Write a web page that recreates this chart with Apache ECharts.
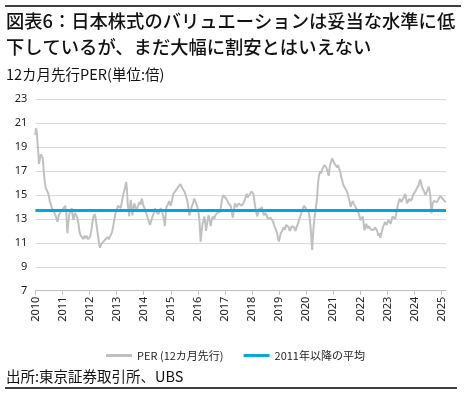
<!DOCTYPE html>
<html><head><meta charset="utf-8">
<script src="https://cdn.jsdelivr.net/npm/echarts@6/dist/echarts.min.js"></script>
<style>html,body{margin:0;padding:0;background:#fff}#c{width:471px;height:393px}</style>
</head><body><div id="c"></div>
<script>
// Decimal-year dates and 12-month forward PER values
const perDates = [
2010.00,2010.02,2010.05,2010.07,2010.10,2010.13,2010.16,2010.20,2010.23,2010.27,2010.30,2010.34,2010.38,2010.42,2010.46,2010.49,2010.53,2010.57,2010.61,2010.66,2010.70,2010.74,2010.78,2010.82,2010.86,2010.91,2010.96,
2011.01,2011.06,2011.10,2011.14,2011.18,2011.21,2011.25,2011.29,2011.34,2011.38,2011.41,2011.46,2011.50,2011.55,2011.59,2011.63,2011.67,2011.72,2011.77,2011.81,2011.85,2011.89,2011.93,2011.96,
2012.02,2012.06,2012.10,2012.14,2012.20,2012.24,2012.28,2012.33,2012.36,2012.39,2012.43,2012.47,2012.51,2012.55,2012.59,2012.63,2012.67,2012.71,2012.75,2012.79,2012.83,2012.88,2012.92,2012.96,
2013.00,2013.05,2013.10,2013.15,2013.20,2013.25,2013.30,2013.35,2013.38,2013.41,2013.44,2013.46,2013.49,2013.52,2013.55,2013.58,2013.62,2013.65,2013.69,2013.74,2013.79,2013.84,2013.88,2013.93,2013.99,
2014.03,2014.07,2014.12,2014.17,2014.23,2014.27,2014.31,2014.36,2014.41,2014.46,2014.50,2014.54,2014.57,2014.63,2014.68,2014.72,2014.76,2014.78,2014.81,2014.84,2014.89,2014.94,
2015.00,2015.05,2015.09,2015.14,2015.19,2015.24,2015.28,2015.32,2015.36,2015.40,2015.44,2015.48,2015.52,2015.56,2015.61,2015.65,2015.68,2015.72,2015.77,2015.82,2015.86,2015.90,2015.93,2015.98,
2016.02,2016.05,2016.08,2016.10,2016.13,2016.17,2016.21,2016.24,2016.27,2016.30,2016.34,2016.39,2016.43,2016.47,2016.51,2016.55,2016.60,2016.64,2016.68,2016.72,2016.77,2016.82,2016.85,2016.88,2016.91,2016.94,2016.99,
2017.04,2017.09,2017.13,2017.17,2017.21,2017.25,2017.29,2017.33,2017.37,2017.42,2017.46,2017.51,2017.56,2017.60,2017.64,2017.68,2017.72,2017.76,2017.80,2017.84,2017.89,2017.93,2017.97,
2018.01,2018.05,2018.08,2018.11,2018.15,2018.19,2018.23,2018.27,2018.31,2018.36,2018.40,2018.44,2018.49,2018.54,2018.58,2018.63,2018.68,2018.73,2018.77,2018.81,2018.86,2018.91,2018.95,2018.99,
2019.03,2019.06,2019.11,2019.16,2019.21,2019.26,2019.30,2019.35,2019.39,2019.43,2019.47,2019.51,2019.55,2019.60,2019.64,2019.68,2019.73,2019.78,2019.83,2019.88,2019.92,2019.96,
2020.01,2020.05,2020.08,2020.11,2020.14,2020.17,2020.20,2020.22,2020.24,2020.27,2020.30,2020.33,2020.37,2020.40,2020.43,2020.46,2020.49,2020.52,2020.55,2020.58,2020.62,2020.67,2020.70,2020.74,2020.78,2020.83,2020.86,2020.89,2020.92,2020.95,2020.98,
2021.01,2021.05,2021.08,2021.11,2021.14,2021.17,2021.20,2021.23,2021.26,2021.29,2021.32,2021.36,2021.40,2021.44,2021.48,2021.52,2021.57,2021.60,2021.64,2021.68,2021.72,2021.75,2021.78,2021.82,2021.85,2021.89,2021.93,2021.97,
2022.00,2022.03,2022.06,2022.09,2022.12,2022.15,2022.18,2022.21,2022.24,2022.27,2022.30,2022.33,2022.36,2022.39,2022.42,2022.46,2022.50,2022.54,2022.58,2022.62,2022.66,2022.70,2022.73,2022.75,2022.79,2022.83,2022.87,2022.91,2022.94,2022.97,
2023.00,2023.03,2023.07,2023.12,2023.15,2023.19,2023.23,2023.28,2023.32,2023.37,2023.41,2023.45,2023.48,2023.51,2023.55,2023.60,2023.63,2023.66,2023.69,2023.72,2023.77,2023.81,2023.85,2023.88,2023.91,2023.94,2023.99,
2024.03,2024.06,2024.09,2024.12,2024.15,2024.18,2024.21,2024.24,2024.27,2024.30,2024.33,2024.37,2024.40,2024.43,2024.46,2024.49,2024.52,2024.55,2024.58,2024.60,2024.62,2024.65,2024.67,2024.71,2024.74,2024.78,2024.83,2024.87,2024.91,2024.95,2024.98,
2025.02,2025.07,2025.11,2025.15
];
const perValues = [
20.0,20.6,20.3,19.6,18.8,17.6,17.9,18.4,18.5,18.1,17.2,16.2,15.6,15.4,15.2,15.0,14.5,14.2,13.9,13.7,13.6,13.3,13.2,12.75,13.3,13.5,13.6,
13.8,13.9,14.1,13.6,11.8,12.5,13.4,13.5,13.9,13.2,12.9,13.5,13.4,13.1,12.6,11.9,11.6,11.5,11.3,11.6,11.4,11.6,11.3,11.2,
11.5,12.0,12.6,13.2,13.4,12.8,12.1,11.3,10.8,10.6,10.9,10.8,11.1,11.0,11.3,11.2,11.5,11.3,11.5,11.6,11.9,12.5,13.0,13.5,
13.75,14.1,14.2,13.9,14.5,15.1,15.5,16.1,15.5,14.2,13.8,13.2,14.0,14.6,14.1,13.3,13.9,14.3,14.0,13.75,14.1,14.4,14.2,14.7,14.1,
13.9,13.6,13.3,12.9,12.5,12.8,13.1,13.4,13.9,13.6,13.75,13.4,13.5,13.9,13.6,13.2,12.8,12.4,13.3,14.0,14.2,14.5,
14.1,14.6,15.1,15.0,15.4,15.5,15.7,15.6,15.9,15.7,15.5,15.6,15.2,14.9,14.5,13.9,13.3,13.6,14.0,14.3,14.7,14.5,14.4,14.0,
13.6,13.0,12.0,11.1,11.8,12.6,12.9,13.2,12.7,12.0,12.6,13.3,13.0,12.4,12.9,13.2,13.0,13.3,13.2,13.5,13.4,13.6,14.0,14.5,14.8,15.0,14.9,
14.7,14.5,14.3,14.4,14.1,13.6,13.1,13.8,14.3,14.0,14.1,14.3,14.2,14.1,14.0,14.3,14.4,14.8,15.1,14.8,14.9,15.1,15.3,
15.2,15.1,14.6,14.1,13.6,13.2,13.5,13.9,13.7,14.0,13.6,13.3,13.5,13.3,13.0,12.9,13.1,13.2,12.8,12.5,12.2,11.9,11.5,11.1,
11.5,11.8,12.0,12.3,12.1,12.5,12.4,12.3,12.0,12.2,12.4,12.5,12.3,12.0,12.3,12.5,12.9,13.2,13.6,13.9,14.1,14.0,
13.8,13.9,13.6,13.3,12.8,12.0,11.0,10.4,11.3,12.3,13.0,13.5,14.2,14.8,15.8,16.5,16.8,17.0,16.8,17.1,17.3,17.5,17.4,17.3,17.0,16.6,17.2,17.6,17.8,18.06,17.9,
17.8,17.6,17.5,17.6,17.3,17.5,17.6,17.1,16.9,16.5,16.3,15.9,15.7,15.6,15.4,15.2,14.7,14.5,14.0,14.3,14.5,14.3,14.2,14.0,13.9,13.7,13.5,13.2,
12.9,12.75,13.0,13.2,12.6,12.05,12.3,12.6,12.4,12.2,12.4,12.3,12.3,12.1,12.05,12.2,12.1,12.3,12.2,12.0,11.6,11.8,11.4,11.5,11.9,12.3,12.5,12.75,12.6,12.5,
12.7,12.9,12.8,12.6,12.9,13.2,13.1,13.0,13.4,14.0,14.4,14.7,14.6,14.4,14.6,14.8,14.9,15.1,14.7,14.3,14.5,14.7,14.5,14.4,14.7,15.0,15.1,
15.3,15.4,15.6,15.7,15.8,16.1,16.3,16.0,15.7,15.5,15.4,15.2,15.0,15.1,15.3,15.5,15.7,15.4,15.0,14.2,13.45,13.9,14.3,14.5,14.6,14.5,14.4,14.6,14.7,14.9,15.0,
14.8,14.6,14.7,14.4
];
const avgSince2011 = 13.7;
const avgRange = [2010, 2025.16];
const yearTicks = [2010,2011,2012,2013,2014,2015,2016,2017,2018,2019,2020,2021,2022,2023,2024,2025];
const seriesNames = ['PER (12カ月先行)', '2011年以降の平均'];
const yTicks = {min: 7, max: 23, interval: 2};

const titleText = '図表6：日本株式のバリュエーションは妥当な水準に低\n下しているが、まだ大幅に割安とはいえない';
const subtitleText = '12カ月先行PER(単位:倍)';
const sourceText = '出所:東京証券取引所、UBS';

const perData = perDates.map((d, i) => [d, perValues[i]]);
const avgData = avgRange.map(d => [d, avgSince2011]);

const cjk = '"Noto Sans CJK JP", "Noto Sans", sans-serif';
const num = '"Noto Sans", "Open Sans", sans-serif';

const chart = echarts.init(document.getElementById('c'), null, {renderer: 'canvas'});
chart.setOption({
  animation: false,
  backgroundColor: '#fff',
  title: [
    {text: titleText, left: 6, top: 8, padding: 0,
     textStyle: {fontFamily: cjk, fontSize: 18.3, fontWeight: 500, color: '#111', lineHeight: 26}},
    {text: subtitleText, left: 6, top: 65, padding: 0,
     textStyle: {fontFamily: cjk, fontSize: 14.5, fontWeight: 'normal', color: '#111', lineHeight: 18}},
    {text: sourceText, left: 6, top: 367, padding: 0,
     textStyle: {fontFamily: cjk, fontSize: 14.5, fontWeight: 'normal', color: '#111', lineHeight: 18}}
  ],
  graphic: [
    {type: 'line', shape: {x1: 5, y1: 6, x2: 461, y2: 6}, style: {stroke: '#000', lineWidth: 1.5}},
    {type: 'line', shape: {x1: 5, y1: 388, x2: 457, y2: 388}, style: {stroke: '#000', lineWidth: 1.5}}
  ],
  legend: {
    data: seriesNames, left: 'center', top: 345,
    icon: 'rect', itemWidth: 26, itemHeight: 3, itemGap: 20,
    textStyle: {fontFamily: cjk, fontSize: 11, color: '#222'}
  },
  grid: {left: 35.4, right: 25, top: 99.3, bottom: 102.3, containLabel: false},
  xAxis: {
    type: 'value', min: 2010, max: avgRange[1], interval: 1,
    axisLine: {show: true, lineStyle: {color: '#bfbfbf', width: 1}},
    axisTick: {show: true, length: 4, lineStyle: {color: '#bfbfbf'}, customValues: yearTicks},
    axisLabel: {rotate: 90, fontFamily: num, fontSize: 11, color: '#222', margin: 6,
      customValues: yearTicks, formatter: v => String(Math.round(v))},
    splitLine: {show: false}
  },
  yAxis: {
    type: 'value', min: yTicks.min, max: yTicks.max, interval: yTicks.interval,
    axisLine: {show: false}, axisTick: {show: false},
    axisLabel: {fontFamily: num, fontSize: 11, color: '#222', margin: 8},
    splitLine: {show: true, lineStyle: {color: '#d9d9d9', width: 1}}
  },
  series: [
    {name: seriesNames[0], type: 'line', data: perData, showSymbol: false, symbol: 'none',
     lineStyle: {color: '#c0c0c0', width: 2}, itemStyle: {color: '#c0c0c0'}},
    {name: seriesNames[1], type: 'line', data: avgData, showSymbol: false, symbol: 'none',
     lineStyle: {color: '#00a6e2', width: 3}, itemStyle: {color: '#00a6e2'}, z: 3}
  ]
});
</script></body></html>
